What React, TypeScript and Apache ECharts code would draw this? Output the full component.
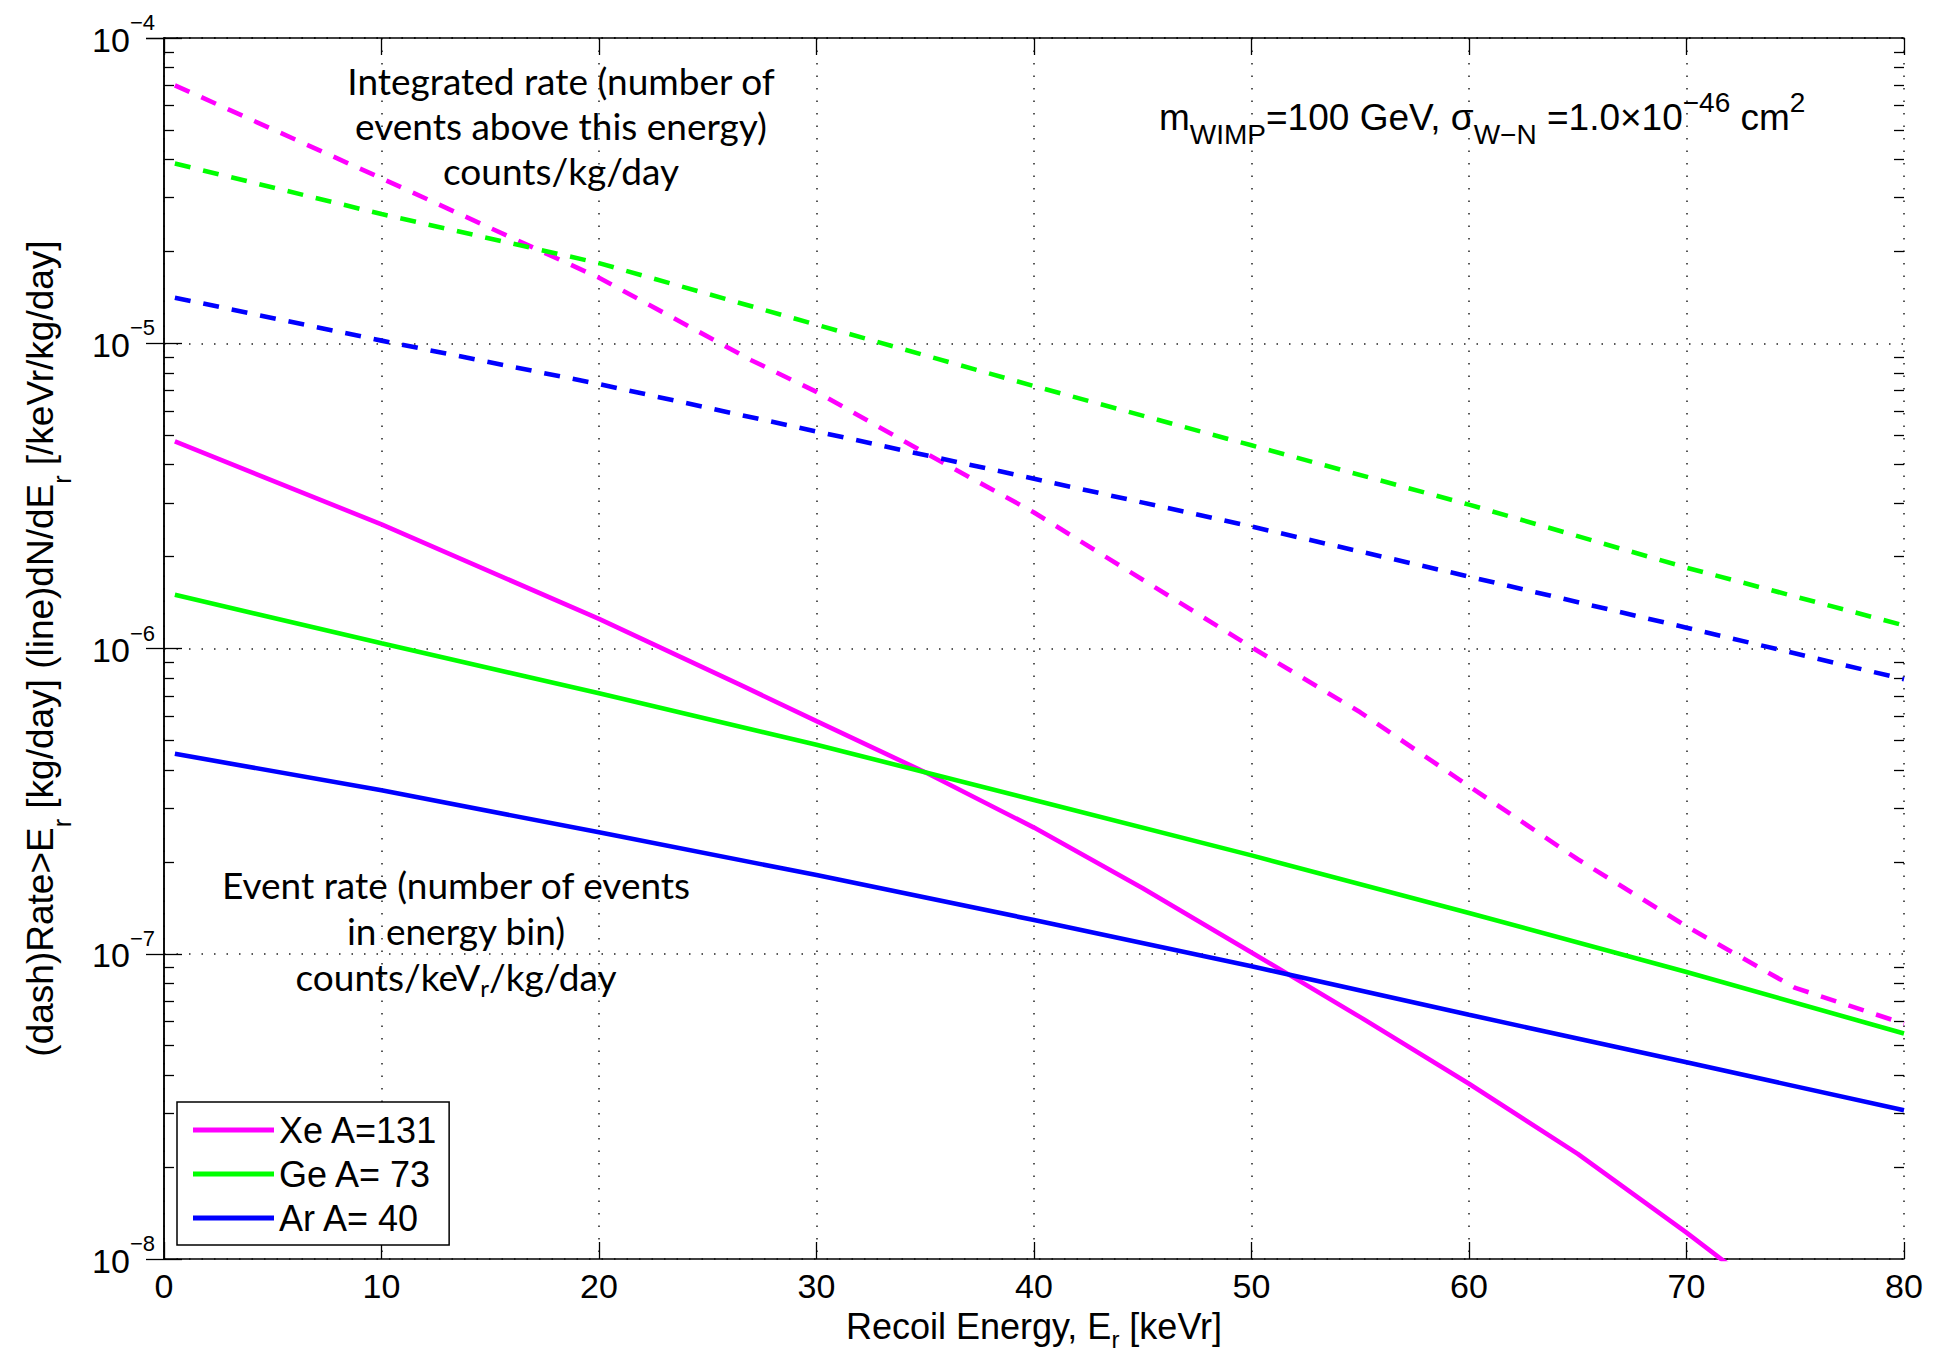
import React, { useEffect, useRef } from "react";
import * as echarts from "echarts";

// ---- Data (recoil energy in keVr, rates) ----
// Differential event rate dN/dE (solid lines), counts/keVr/kg/day
const xeDiffE = [0.5, 10, 20, 26.5, 30, 35, 40, 45, 50, 55, 60, 65, 70, 72];
const xeDiffR = [4.77e-6, 2.55e-6, 1.25e-6, 7.6e-7, 5.78e-7, 3.93e-7, 2.59e-7, 1.64e-7, 1.01e-7, 6.2e-8, 3.75e-8, 2.21e-8, 1.22e-8, 9.5e-9];

const geDiffE = [0.5, 10, 20, 30, 40, 50, 60, 70, 80];
const geDiffR = [1.5e-6, 1.04e-6, 7.13e-7, 4.84e-7, 3.19e-7, 2.1e-7, 1.36e-7, 8.71e-8, 5.48e-8];

const arDiffE = [0.5, 10, 20, 30, 40, 50, 60, 70, 80];
const arDiffR = [4.52e-7, 3.43e-7, 2.5e-7, 1.81e-7, 1.29e-7, 9.1e-8, 6.31e-8, 4.41e-8, 3.07e-8];

// Integrated rate above threshold (dashed lines), counts/kg/day
const xeIntE = [0.5, 10, 20, 27, 30, 35, 40, 45, 50, 55, 60, 65, 70, 75, 80];
const xeIntR = [7.0e-5, 3.47e-5, 1.64e-5, 8.8e-6, 6.93e-6, 4.37e-6, 2.79e-6, 1.68e-6, 1.01e-6, 6.18e-7, 3.54e-7, 2.04e-7, 1.23e-7, 7.73e-8, 5.9e-8];

const geIntE = [0.5, 10, 20, 30, 40, 50, 60, 70, 80];
const geIntR = [3.88e-5, 2.65e-5, 1.83e-5, 1.15e-5, 7.24e-6, 4.63e-6, 2.96e-6, 1.84e-6, 1.19e-6];

const arIntE = [0.5, 10, 20, 30, 40, 50, 60, 70, 80];
const arIntR = [1.41e-5, 1.02e-5, 7.35e-6, 5.14e-6, 3.6e-6, 2.51e-6, 1.72e-6, 1.17e-6, 7.93e-7];

const legendNames = ["Xe A=131", "Ge A= 73", "Ar A= 40"];
const colors = ["#ff00ff", "#00ff00", "#0000ff"];

// minor log-grid positions (2..9 x 10^n)
const minorVals: number[] = [];
for (let e = -8; e < -4; e++) {
  for (let m = 2; m <= 9; m++) minorVals.push(Number((m * Math.pow(10, e)).toPrecision(3)));
}

const FONT = "'Liberation Sans', Arial, Helvetica, sans-serif";
const ANN = "Lato, 'Open Sans', sans-serif";

const dotted: any = { color: "#222", width: 1.5, type: [1.5, 11], opacity: 1 };

function line(name: string, xs: number[], ys: number[], color: string, dashed: boolean, z: number) {
  return {
    type: "line",
    name,
    data: xs.map((x, i) => [x, ys[i]]),
    xAxisIndex: 0,
    yAxisIndex: 0,
    showSymbol: false,
    symbol: "none",
    clip: true,
    silent: true,
    z,
    itemStyle: { color },
    lineStyle: { color, width: 4.6, type: dashed ? [16, 13] : "solid", cap: "butt" },
  };
}

const yBase: any = { type: "log", logBase: 10, min: 1e-8, max: 1e-4, gridIndex: 0 };
const tickLine = { color: "#000", width: 1.3 };

const yNameRich = {
  m: { fontFamily: FONT, fontSize: 37, height: 37, lineHeight: 37, verticalAlign: "top", color: "#000" },
  sub: { fontFamily: FONT, fontSize: 25, height: 25, lineHeight: 52, verticalAlign: "bottom", color: "#000" },
};
const xNameRich = {
  m: { fontFamily: FONT, fontSize: 36, height: 36, lineHeight: 36, verticalAlign: "top", color: "#000" },
  sub: { fontFamily: FONT, fontSize: 24, height: 24, lineHeight: 43, verticalAlign: "bottom", color: "#000" },
};

const option: any = {
  animation: false,
  backgroundColor: "#fff",
  textStyle: { fontFamily: FONT, color: "#000" },
  grid: { left: 164, top: 38, right: 30, bottom: 94, containLabel: false, outerBoundsMode: "none" },
  legend: {
    data: legendNames,
    orient: "vertical",
    left: 177,
    top: 1102,
    icon: "rect",
    itemWidth: 81,
    itemHeight: 5,
    itemGap: 4,
    itemTextGap: 10,
    padding: [8, 11, 7, 16],
    borderColor: "#000",
    borderWidth: 1.5,
    borderRadius: 0,
    backgroundColor: "#fff",
    selectedMode: false,
    textStyle: { fontFamily: FONT, fontSize: 36, color: "#000", lineHeight: 40 },
    z: 10,
  },
  xAxis: [
    {
      type: "value",
      min: 0,
      max: 80,
      interval: 10,
      position: "bottom",
      axisLine: { show: true, lineStyle: { color: "#000", width: 1.5 } },
      axisTick: { show: true, inside: true, length: 17, lineStyle: tickLine },
      axisLabel: {
        show: true,
        fontFamily: FONT,
        fontSize: 34,
        lineHeight: 30,
        color: "#000",
        margin: 12,
        showMinLabel: true,
        showMaxLabel: true,
      },
      splitLine: { show: true, lineStyle: dotted },
      name: "{m|Recoil Energy, E}{sub|r}{m| [keVr]}",
      nameLocation: "middle",
      nameGap: 49,
      nameMoveOverlap: false,
      nameTextStyle: { fontFamily: FONT, fontSize: 36, color: "#000", rich: xNameRich },
    },
    {
      type: "value",
      min: 0,
      max: 80,
      interval: 10,
      position: "top",
      axisLine: { show: true, lineStyle: { color: "#000", width: 1.5 } },
      axisTick: { show: true, inside: true, length: 17, lineStyle: tickLine },
      axisLabel: { show: false },
      splitLine: { show: false },
    },
  ],
  yAxis: [
    {
      ...yBase,
      position: "left",
      axisLine: { show: true, lineStyle: { color: "#000", width: 1.5 } },
      axisTick: { show: true, inside: true, length: 18, lineStyle: tickLine },
      axisLabel: {
        show: true,
        margin: 9,
        padding: [0, 0, 8, 0],
        formatter: (v: number) => `{b|10}{s|\u2212${Math.abs(Math.round(Math.log10(v)))}}`,
        rich: {
          b: { fontFamily: FONT, fontSize: 34, height: 34, lineHeight: 45, verticalAlign: "bottom", color: "#000" },
          s: { fontFamily: FONT, fontSize: 22, height: 22, lineHeight: 22, verticalAlign: "top", color: "#000" },
        },
      },
      splitLine: { show: true, lineStyle: dotted },
      minorTick: { show: false },
      name: "{m|(dash)Rate>E}{sub|r}{m| [kg/day] (line)dN/dE}{sub|r}{m| [/keVr/kg/day]}",
      nameLocation: "middle",
      nameRotate: 90,
      nameGap: 90,
      nameMoveOverlap: false,
      nameTextStyle: { fontFamily: FONT, fontSize: 37, color: "#000", rich: yNameRich },
    },
    {
      ...yBase,
      position: "right",
      axisLine: { show: true, lineStyle: { color: "#000", width: 1.5 } },
      axisTick: { show: true, inside: true, length: 18, lineStyle: tickLine },
      axisLabel: { show: false },
      splitLine: { show: false },
    },
    {
      ...yBase,
      position: "left",
      axisLine: { show: false },
      axisTick: { show: true, inside: true, length: 10, customValues: minorVals, lineStyle: tickLine },
      axisLabel: { show: false },
      splitLine: { show: false },
    },
    {
      ...yBase,
      position: "right",
      axisLine: { show: false },
      axisTick: { show: true, inside: true, length: 10, customValues: minorVals, lineStyle: tickLine },
      axisLabel: { show: false },
      splitLine: { show: false },
    },
  ],
  series: [
    {
      type: "line",
      name: "grid-minor",
      data: [],
      xAxisIndex: 0,
      yAxisIndex: 0,
      silent: true,
      z: 1,
      markLine: {
        silent: true,
        symbol: ["none", "none"],
        label: { show: false },
        animation: false,
        lineStyle: dotted,
        data: minorVals.map((v) => ({ yAxis: v })),
      },
    },
    line(legendNames[0], xeDiffE, xeDiffR, colors[0], false, 3),
    line(legendNames[1], geDiffE, geDiffR, colors[1], false, 3),
    line(legendNames[2], arDiffE, arDiffR, colors[2], false, 3),
    line("Xe integrated", xeIntE, xeIntR, colors[0], true, 3),
    line("Ge integrated", geIntE, geIntR, colors[1], true, 3),
    line("Ar integrated", arIntE, arIntR, colors[2], true, 3),
  ],
  graphic: [
    {
      type: "text",
      x: 561,
      y: 125,
      z: 20,
      style: {
        text: "Integrated rate (number of\nevents above this energy)\ncounts/kg/day",
        fontFamily: ANN,
        fontSize: 37,
        lineHeight: 45,
        fill: "#000",
        align: "center",
        verticalAlign: "middle",
        textAlign: "center",
        textVerticalAlign: "middle",
      },
    },
    {
      type: "text",
      x: 456,
      y: 930,
      z: 20,
      style: {
        text: "Event rate (number of events\nin energy bin)\ncounts/keV{sub|r}/kg/day",
        fontFamily: ANN,
        fontSize: 37,
        lineHeight: 46,
        fill: "#000",
        align: "center",
        verticalAlign: "middle",
        textAlign: "center",
        textVerticalAlign: "middle",
        rich: {
          sub: { fontFamily: ANN, fontSize: 24, height: 24, lineHeight: 46, verticalAlign: "bottom", fill: "#000" },
        },
      },
    },
    {
      type: "text",
      x: 1159,
      y: 117,
      z: 20,
      style: {
        text: "{m|m}{sub|WIMP}{m|=100 GeV, }{m|\u03c3}{sub|W\u2212N}{m| =1.0\u00d710}{sup|\u221246}{m| cm}{sup|2}",
        fontFamily: FONT,
        fontSize: 37,
        fill: "#000",
        align: "left",
        verticalAlign: "middle",
        textAlign: "left",
        textVerticalAlign: "middle",
        rich: {
          m: { fontFamily: FONT, fontSize: 37, height: 37, lineHeight: 62, verticalAlign: "middle", fill: "#000" },
          sub: { fontFamily: FONT, fontSize: 28, height: 28, lineHeight: 28, verticalAlign: "bottom", fill: "#000" },
          sup: { fontFamily: FONT, fontSize: 28, height: 32, lineHeight: 32, verticalAlign: "top", fill: "#000" },
        },
      },
    },
  ],
};

export default function App() {
  const ref = useRef<HTMLDivElement>(null);
  useEffect(() => {
    if (!ref.current) return;
    const chart = echarts.init(ref.current, null, { renderer: "svg" });
    chart.setOption(option);
    return () => chart.dispose();
  }, []);
  return (
    <div
      ref={ref}
      style={{ position: "absolute", left: 0, top: 0, width: 1934, height: 1353, background: "#fff" }}
    />
  );
}
